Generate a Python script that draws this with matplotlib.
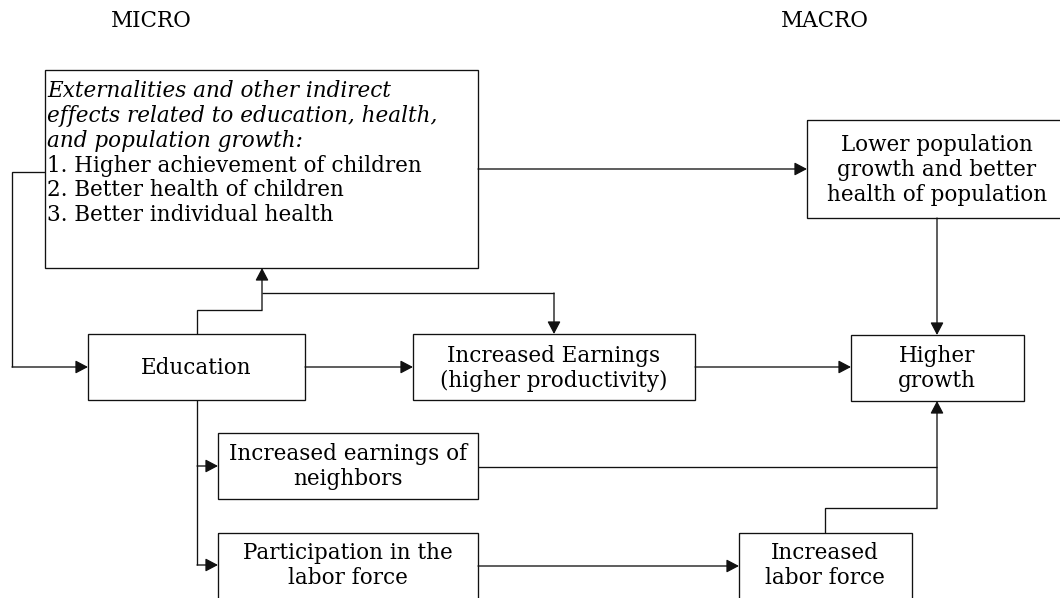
import matplotlib
matplotlib.use("Agg")
import matplotlib.pyplot as plt
from matplotlib.patches import Rectangle

plt.rcParams['font.family'] = ['DejaVu Serif']

# ---- content ----
header_labels = ["MICRO", "MACRO"]
intro_lines = ["Externalities and other indirect",
               "effects related to education, health,",
               "and population growth:"]
list_lines = ["1. Higher achievement of children",
              "2. Better health of children",
              "3. Better individual health"]
education_label = ["Education"]
earnings_label = ["Increased Earnings", "(higher productivity)"]
population_label = ["Lower population", "growth and better", "health of population"]
growth_label = ["Higher", "growth"]
neighbors_label = ["Increased earnings of", "neighbors"]
participation_label = ["Participation in the", "labor force"]
laborforce_label = ["Increased", "labor force"]

# ---- layout (pixels, y down) ----
W, H = 1060, 598
FS = 15.5
LINE = 25
EC = '#111111'
LW = 0.95

boxes = {
    'ext':   (45, 70, 478, 268),
    'edu':   (88, 334, 305, 400),
    'earn':  (413, 334, 695, 400),
    'pop':   (807, 120, 1068, 218),
    'grow':  (851, 335, 1024, 401),
    'neigh': (218, 433, 478, 499),
    'part':  (218, 533, 478, 610),
    'labor': (739, 533, 912, 610),
}

fig = plt.figure(figsize=(W / 100, H / 100), dpi=100)
ax = fig.add_axes([0, 0, 1, 1])
ax.set_xlim(0, W)
ax.set_ylim(H, 0)
ax.axis('off')

for key, (x0, y0, x1, y1) in boxes.items():
    ax.add_patch(Rectangle((x0, y0), x1 - x0, y1 - y0, fill=False,
                           edgecolor=EC, lw=LW, zorder=2))


def centered(lines, cx, first_baseline):
    for i, t in enumerate(lines):
        ax.text(cx, first_baseline + i * LINE, t, ha='center', va='baseline',
                fontsize=FS, color='black')


# headers
ax.text(151, 27, header_labels[0], ha='center', va='baseline', fontsize=FS)
ax.text(825, 27, header_labels[1], ha='center', va='baseline', fontsize=FS)

# big box text
base = [97, 122, 147]
for t, y in zip(intro_lines, base):
    ax.text(47, y, t, ha='left', va='baseline', fontsize=FS, style='italic')
base = [172, 196, 221]
for t, y in zip(list_lines, base):
    ax.text(47, y, t, ha='left', va='baseline', fontsize=FS)

centered(education_label, 196, 374)
centered(earnings_label, 554, 362)
centered(population_label, 937, 151)
centered(growth_label, 937, 362)
centered(neighbors_label, 348, 460)
centered(participation_label, 348, 559)
centered(laborforce_label, 825, 559)


def connector(points, arrow=True):
    xs = [p[0] for p in points]
    ys = [p[1] for p in points]
    if arrow:
        ax.plot(xs[:-1], ys[:-1], color=EC, lw=LW, solid_capstyle='butt',
                solid_joinstyle='miter', zorder=3)
        ax.annotate('', xy=points[-1], xytext=points[-2],
                    arrowprops=dict(arrowstyle='-|>,head_length=0.38,head_width=0.2',
                                    mutation_scale=20, lw=LW, color=EC,
                                    shrinkA=0, shrinkB=0), zorder=3)
    else:
        ax.plot(xs, ys, color=EC, lw=LW, solid_capstyle='butt',
                solid_joinstyle='miter', zorder=3)


connector([(45, 172), (12, 172), (12, 367), (88, 367)])
connector([(478, 169), (807, 169)])
connector([(305, 367), (413, 367)])
connector([(695, 367), (851, 367)])
connector([(937, 218), (937, 335)])
connector([(197, 334), (197, 310), (262, 310), (262, 268)])
connector([(262, 293), (554, 293), (554, 334)])
connector([(197, 400), (197, 565), (218, 565)])
connector([(197, 466), (218, 466)])
connector([(478, 467), (937, 467)], arrow=False)
connector([(825, 533), (825, 508), (937, 508), (937, 401)])
connector([(478, 566), (739, 566)])

fig.savefig('out.png', dpi=100, facecolor='white')
